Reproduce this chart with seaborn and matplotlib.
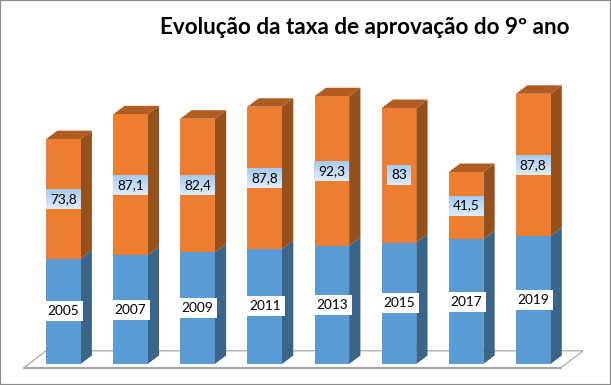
import numpy as np
import matplotlib
matplotlib.use('Agg')
import matplotlib.pyplot as plt
from matplotlib.patches import Polygon, Rectangle
import seaborn as sns

years = [2005, 2007, 2009, 2011, 2013, 2015, 2017, 2019]
rates = [73.8, 87.1, 82.4, 87.8, 92.3, 83.0, 41.5, 87.8]
rate_labels = ['73,8', '87,1', '82,4', '87,8', '92,3', '83', '41,5', '87,8']
title = 'Evolução da taxa de aprovação do 9º ano'

sns.set_theme(style='white')
plt.rcParams['font.family'] = ['Lato', 'DejaVu Sans']

W, H = 611, 385
base_px = 364.0      # pixel row of the 1940 baseline
per_unit = 1.62      # pixels per y unit
spacing = 67.13      # pixels between bars
first_px = 63.3

fig = plt.figure(figsize=(W / 100, H / 100), dpi=100, facecolor='white')
ax = fig.add_axes([0, (H - base_px) / H, 1, base_px / H])

totals = [y + r for y, r in zip(years, rates)]
cats = [str(y) for y in years]
bar_w = 34.6 / spacing

# stacked look: totals behind, years in front
sns.barplot(x=cats, y=totals, color='#ED7D31', saturation=1, width=bar_w, ax=ax, zorder=3, linewidth=0)
sns.barplot(x=cats, y=years, color='#5B9BD5', saturation=1, width=bar_w, ax=ax, zorder=3, linewidth=0)

ax.set_xlim(-first_px / spacing, (W - first_px) / spacing)
ax.set_ylim(1940, 1940 + base_px / per_unit)
ax.axis('off')

dx = 11.3 / spacing
dy = 8.5 / per_unit

# floor of the 3d box
floor_x = [(24 - first_px) / spacing, (561 - first_px) / spacing,
           (583 - first_px) / spacing, (46 - first_px) / spacing]
floor_y = [1940 - 3.7 / per_unit, 1940 - 3.7 / per_unit,
           1940 + 13.2 / per_unit, 1940 + 13.2 / per_unit]
ax.add_patch(Polygon(list(zip(floor_x, floor_y)), closed=True, fc='white', ec='#a6a6a6',
                     lw=0.9, zorder=1, clip_on=False))
ax.plot(floor_x[:2], floor_y[:2], color='#a6a6a6', lw=1.6, zorder=1, clip_on=False)


def side(x, low, high, color):
    r = x + bar_w / 2
    ax.add_patch(Polygon([(r, low), (r + dx, low + dy), (r + dx, high + dy), (r, high)],
                         closed=True, fc=color, ec='none', zorder=2.5))


gradient = np.linspace(0, 1, 32).reshape(-1, 1)
grad_cmap = matplotlib.colors.LinearSegmentedColormap.from_list('lab', ['#A6CBF3', '#DEECFB'])
renderer = fig.canvas.get_renderer()

for i, (y, r) in enumerate(zip(years, rates)):
    l = i - bar_w / 2
    top = y + r
    side(i, 1940, y, '#3A6589')
    side(i, y, top, '#95501C')
    ax.add_patch(Polygon([(l, top), (l + bar_w, top), (l + bar_w + dx, top + dy), (l + dx, top + dy)],
                         closed=True, fc='#B15D22', ec='none', zorder=2.5))

    # year label on a white box
    ymid = (1940 + y) / 2
    t = ax.text(i, ymid, cats[i], ha='center', va='center', fontsize=9.8, color='#000000', zorder=6)
    w = (t.get_window_extent(renderer).width + 8) / spacing
    ax.add_patch(Rectangle((i - w / 2, ymid - 10 / per_unit), w, 20 / per_unit, fc='white', ec='none', zorder=5))

    # rate label on a light blue gradient box
    rmid = y + r / 2
    t = ax.text(i, rmid, rate_labels[i], ha='center', va='center', fontsize=9.8, color='#000000', zorder=6)
    w = (t.get_window_extent(renderer).width + 8) / spacing
    ax.imshow(gradient, cmap=grad_cmap, aspect='auto', zorder=5, origin='upper',
              extent=(i - w / 2, i + w / 2, rmid - 10 / per_unit, rmid + 10 / per_unit))

ax.set_xlim(-first_px / spacing, (W - first_px) / spacing)
ax.set_ylim(1940, 1940 + base_px / per_unit)

fig.text(365 / W, 1 - 27 / H, title, ha='center', va='center', fontsize=16.2, fontweight='bold', color='#000000')

# outer frame
fig.add_artist(Rectangle((0, 0), 1, 1, transform=fig.transFigure, fill=False, ec='#8c8c8c', lw=1.6))

fig.savefig('out.png', dpi=100)
